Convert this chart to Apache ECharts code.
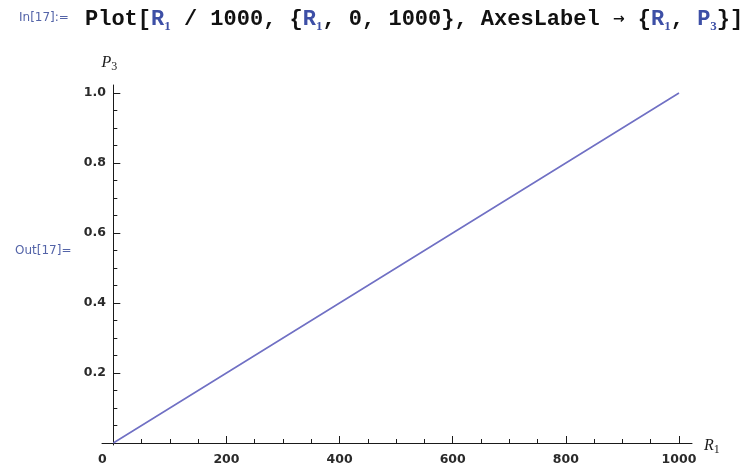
<!DOCTYPE html>
<html>
<head>
<meta charset="utf-8">
<script src="https://cdn.jsdelivr.net/npm/echarts@6/dist/echarts.min.js"></script>
<style>
html,body{margin:0;padding:0;background:#fff;}
#c{width:753px;height:470px;}
</style>
</head>
<body>
<div id="c"></div>
<script>
// ---- data ----
var r1Values = [0, 200, 400, 600, 800, 1000];
var p3Values = [0, 0.2, 0.4, 0.6, 0.8, 1.0];
var xMajorTicks = [0, 200, 400, 600, 800, 1000];
var xMinorTicks = [50, 100, 150, 250, 300, 350, 450, 500, 550, 650, 700, 750, 850, 900, 950];
var yMajorTicks = [0.2, 0.4, 0.6, 0.8, 1.0];
var yMinorTicks = [0.05, 0.1, 0.15, 0.25, 0.3, 0.35, 0.45, 0.5, 0.55, 0.65, 0.7, 0.75, 0.85, 0.9, 0.95];
var inLabel = 'In[17]:=';
var outLabel = 'Out[17]=';

var lineData = r1Values.map(function (v, i) { return [v, p3Values[i]]; });

var axisColor = '#1a1a1a';
var labelColor = '#2a2a2a';
var tickFont = '"DejaVu Sans", sans-serif';
var mono = '"Liberation Mono", "DejaVu Sans Mono", monospace';
var codeBlue = { fontFamily: mono, fontWeight: 'bold', fontSize: 22, color: '#3d4fa6', lineHeight: 28, verticalAlign: 'middle' };
var codeSub = { fontFamily: '"Liberation Serif", serif', fontSize: 13, color: '#3d4fa6', lineHeight: 14, verticalAlign: 'bottom' };
var codeArrow = { fontFamily: '"DejaVu Sans", sans-serif', fontSize: 14, color: '#111', lineHeight: 28, verticalAlign: 'middle' };

// plain text parts use the default (black code) style; tokens for coloured parts
var codeText = 'Plot[{b|R}{s|1} / 1000, {{b|R}{s|1}, 0, 1000}, AxesLabel {a|\u2192} {{b|R}{s|1}, {b|P}{s|3}}]';

var nameRich = {
  i: { fontFamily: '"Liberation Serif", serif', fontStyle: 'italic', fontSize: 16, color: '#1a1a1a', lineHeight: 20, verticalAlign: 'middle' },
  s: { fontFamily: '"Liberation Serif", serif', fontSize: 12, color: '#1a1a1a', lineHeight: 12, verticalAlign: 'bottom' }
};

var chart = echarts.init(document.getElementById('c'));
chart.setOption({
  backgroundColor: '#ffffff',
  animation: false,
  title: [
    {
      text: inLabel, left: 14, top: 7,
      textStyle: { fontFamily: '"DejaVu Sans", sans-serif', fontSize: 12, fontWeight: 'normal', color: '#5464a8' }
    },
    {
      text: codeText, left: 80, top: 0,
      textStyle: {
        fontFamily: mono, fontWeight: 'bold', fontSize: 22, color: '#111', lineHeight: 28, verticalAlign: 'middle',
        rich: { b: codeBlue, s: codeSub, a: codeArrow }
      }
    },
    {
      text: outLabel, left: 10, top: 240,
      textStyle: { fontFamily: '"DejaVu Sans", sans-serif', fontSize: 12, fontWeight: 'normal', color: '#5464a8' }
    }
  ],
  grid: { left: 102, top: 85, width: 590, height: 360, containLabel: false },
  xAxis: [
    {
      type: 'value', min: -20, max: 1023,
      name: '{i|R}{s|1}', nameLocation: 'end', nameGap: 12,
      nameTextStyle: { rich: nameRich, verticalAlign: 'middle', padding: [6, 0, 0, 0] },
      axisLine: { onZero: true, lineStyle: { color: axisColor, width: 1 } },
      axisTick: { show: true, inside: true, length: 7, customValues: xMajorTicks, lineStyle: { color: axisColor, width: 1 } },
      axisLabel: {
        show: true, customValues: xMajorTicks, margin: 8,
        fontFamily: tickFont, fontSize: 12.5, fontWeight: 'bold', color: labelColor,
        formatter: function (v) { return v === 0 ? '{z|0}' : String(v); },
        rich: { z: { fontFamily: tickFont, fontSize: 12.5, fontWeight: 'bold', color: labelColor, padding: [0, 22, 0, 0] } }
      },
      splitLine: { show: false }
    },
    {
      type: 'value', min: -20, max: 1023, position: 'bottom',
      axisLine: { show: false, onZero: true },
      axisTick: { show: true, inside: true, length: 4, customValues: xMinorTicks, lineStyle: { color: axisColor, width: 1 } },
      axisLabel: { show: false },
      splitLine: { show: false }
    }
  ],
  yAxis: [
    {
      type: 'value', min: -0.0057, max: 1.0229,
      name: '{i|P}{s|3}', nameLocation: 'end', nameGap: 12,
      nameTextStyle: { rich: nameRich, padding: [0, 8, 0, 0] },
      axisLine: { onZero: true, lineStyle: { color: axisColor, width: 1 } },
      axisTick: { show: true, inside: true, length: 7, customValues: yMajorTicks, lineStyle: { color: axisColor, width: 1 } },
      axisLabel: {
        show: true, customValues: yMajorTicks, margin: -4,
        fontFamily: tickFont, fontSize: 12.5, fontWeight: 'bold', color: labelColor,
        formatter: function (v) { return v.toFixed(1); }
      },
      splitLine: { show: false }
    },
    {
      type: 'value', min: -0.0057, max: 1.0229, position: 'left',
      axisLine: { show: false, onZero: true },
      axisTick: { show: true, inside: true, length: 4, customValues: yMinorTicks, lineStyle: { color: axisColor, width: 1 } },
      axisLabel: { show: false },
      splitLine: { show: false }
    }
  ],
  series: [
    {
      type: 'line', xAxisIndex: 0, yAxisIndex: 0,
      data: lineData, showSymbol: false, symbol: 'none',
      lineStyle: { color: '#7070c4', width: 1.6 },
      silent: true
    }
  ]
});
</script>
</body>
</html>
